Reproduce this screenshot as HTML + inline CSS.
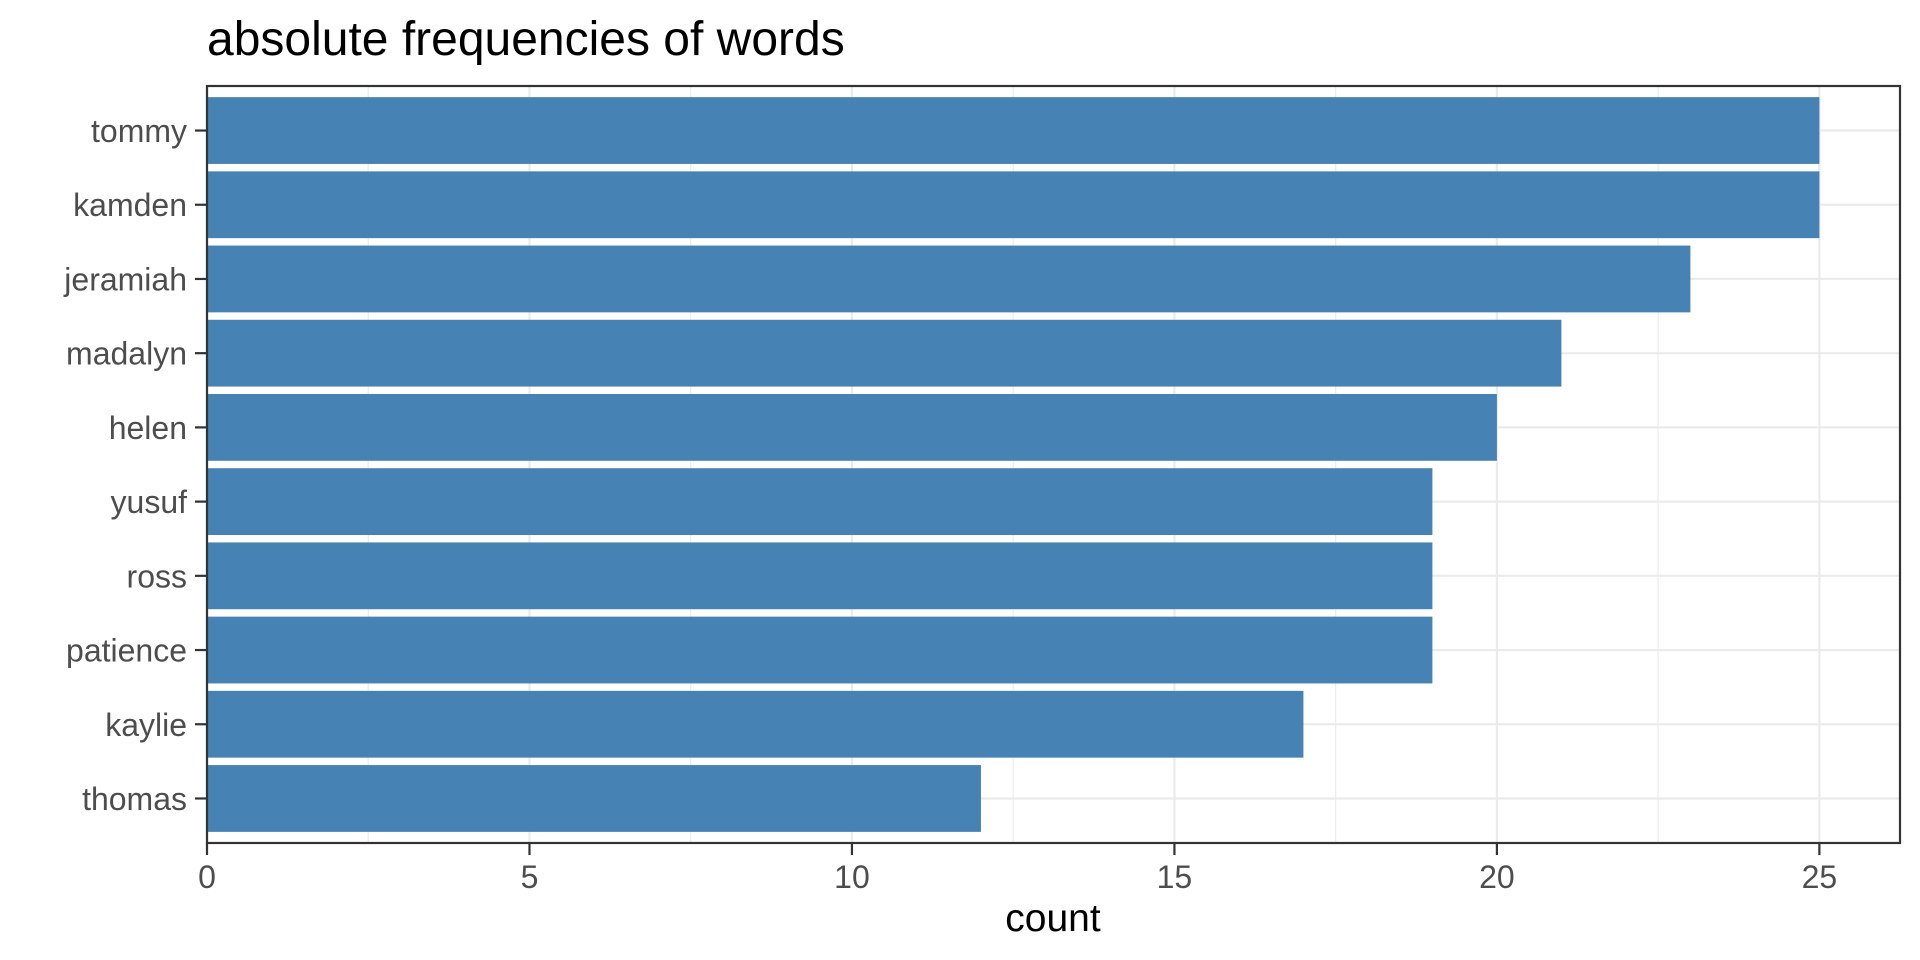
<!DOCTYPE html>
<html><head><meta charset="utf-8"><style>
html,body{margin:0;padding:0;background:#fff}
svg{display:block}
text{font-family:"Liberation Sans",Arial,sans-serif}
</style></head><body>
<svg id="chart" width="1920" height="960" viewBox="0 0 1920 960">
<rect width="1920" height="960" fill="#fff"/>
<text x="207" y="55" font-size="48" fill="#000">absolute frequencies of words</text>
<g id="grid"></g>
<g id="bars"></g>
<rect x="207" y="86" width="1693" height="757" fill="none" stroke="#333" stroke-width="2.2"/>
<g id="yaxis"></g>
<g id="xaxis"></g>
<text x="1053" y="931" font-size="39" text-anchor="middle" fill="#000">count</text>
</svg>
<script>
const categories = ["tommy","kamden","jeramiah","madalyn","helen","yusuf","ross","patience","kaylie","thomas"];
const counts = [25,25,23,21,20,19,19,19,17,12];
const xTicks = [0,5,10,15,20,25];
const xMinor = [2.5,7.5,12.5,17.5,22.5];

const NS = "http://www.w3.org/2000/svg";
const L = 207, R = 1900, T = 86, B = 843;
const xMax = 26.25;
function xs(v){ return L + v/xMax*(R-L); }
const n = categories.length;
const step = (B-T)/(n-1+1.2);
function ys(i){ return T + (0.6 + i)*step; }
function mk(tag, attrs, parent){ const e=document.createElementNS(NS,tag); for(const k in attrs) e.setAttribute(k,attrs[k]); parent.appendChild(e); return e; }

const grid = document.getElementById('grid');
xMinor.forEach(v=>{
  const l = mk('line',{x1:xs(v),x2:xs(v),y1:T,y2:B,stroke:'#ebebeb','stroke-width':1.1},grid);
  
  
});
xTicks.forEach(v=>{
  const l = mk('line',{x1:xs(v),x2:xs(v),y1:T,y2:B,stroke:'#ebebeb','stroke-width':2.2},grid);
  
  
});
categories.forEach((c,i)=>{
  const l = mk('line',{x1:L,x2:R,y1:ys(i),y2:ys(i),stroke:'#ebebeb','stroke-width':2.2},grid);
  
  
});

const bars = document.getElementById('bars');
const bh = step*0.9;
categories.forEach((c,i)=>{
  const r = mk('rect',{x:xs(0),y:ys(i)-bh/2,width:xs(counts[i])-xs(0),height:bh,fill:'#4682b4'},bars);
  
  
});

const ya = document.getElementById('yaxis');
categories.forEach((c,i)=>{
  const t = mk('line',{x1:L-12,x2:L,y1:ys(i),y2:ys(i),stroke:'#333','stroke-width':2.2},ya);
  
  
  const tx = mk('text',{x:187,y:ys(i)+11.5,'font-size':32,'text-anchor':'end',fill:'#4d4d4d'},ya);
  tx.textContent = c;
  
  
});
const xa = document.getElementById('xaxis');
xTicks.forEach(v=>{
  const t = mk('line',{x1:xs(v),x2:xs(v),y1:B,y2:B+12,stroke:'#333','stroke-width':2.2},xa);
  
  
  const tx = mk('text',{x:xs(v),y:888,'font-size':32,'text-anchor':'middle',fill:'#4d4d4d'},xa);
  tx.textContent = v;
  
  
});
</script>
</body></html>
